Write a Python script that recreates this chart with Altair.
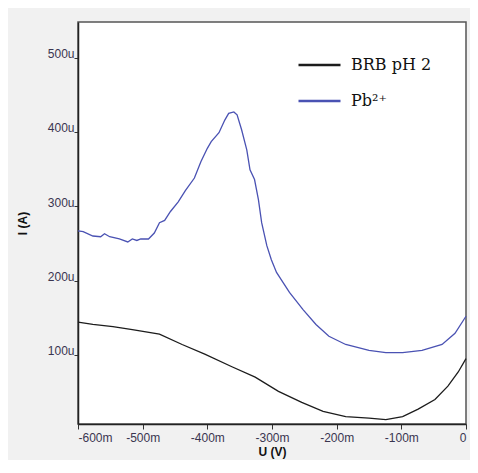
import altair as alt
import pandas as pd

# Potential (mV) and current (µA)
pb_u = [-600, -592, -577, -565, -559, -551, -536, -523, -516, -509, -503, -491, -482,
        -474, -466, -457, -445, -434, -420, -410, -400, -394, -382, -373, -367, -359,
        -354, -347, -339, -334, -327, -321, -316, -308, -301, -293, -273, -252, -232,
        -212, -186, -150, -124, -98, -68, -37, -17, 0]
pb_i = [267, 266, 260, 259, 263, 259, 256, 252, 256, 254, 256, 256, 264,
        278, 281, 293, 306, 321, 338, 360, 378, 387, 399, 416, 425, 427,
        423, 403, 376, 349, 336, 309, 278, 247, 228, 211, 184, 161, 141,
        125, 114, 106, 103, 103, 106, 114, 129, 152]

brb_u = [-600, -577, -546, -516, -474, -439, -404, -362, -326, -290, -254, -221,
         -186, -150, -124, -98, -74, -48, -28, -12, 0]
brb_i = [144, 141, 138, 134, 128, 114, 101, 84, 70, 51, 36, 24,
         17, 15, 13, 17, 27, 40, 58, 77, 95]

series_names = ["BRB pH 2", "Pb²⁺"]
series_colors = ["#1c1c1c", "#4a52b3"]

x_ticks = [-600, -500, -400, -300, -200, -100, 0]
y_ticks = [100, 200, 300, 400, 500]

df = pd.concat([
    pd.DataFrame({"U": brb_u, "I": brb_i, "series": series_names[0]}),
    pd.DataFrame({"U": pb_u, "I": pb_i, "series": series_names[1]}),
])

chart = alt.Chart(df).mark_line(strokeWidth=1.3).encode(
    x=alt.X("U:Q",
            scale=alt.Scale(domain=[-600, 0], nice=False, zero=False),
            axis=alt.Axis(title="U (V)", values=x_ticks,
                          labelExpr="datum.value == 0 ? '0' : datum.value + 'm'",
                          grid=False, tickSize=5, labelPadding=3, titlePadding=3)),
    y=alt.Y("I:Q",
            scale=alt.Scale(domain=[7, 548], nice=False, zero=False),
            axis=alt.Axis(title="I (A)", values=y_ticks,
                          labelExpr="datum.value + 'u'",
                          grid=False, tickSize=4, labelPadding=0,
                          labelBaseline="alphabetic", titlePadding=18)),
    color=alt.Color("series:N",
                    scale=alt.Scale(domain=series_names, range=series_colors),
                    legend=alt.Legend(title=None, orient="none", legendX=219, legendY=35,
                                      symbolType="stroke", symbolSize=1764,
                                      symbolStrokeWidth=2.5, clipHeight=16,
                                      rowPadding=20, labelFont="DejaVu Serif",
                                      labelFontSize=16, labelOffset=9,
                                      labelColor="#111")),
    order=alt.Order("U:Q"),
).properties(
    width=388, height=402,
    autosize=alt.AutoSizeParams(type="none"),
    padding={"left": 70, "top": 14, "right": 4, "bottom": 36},
    background="#f1f1f1",
).configure_view(
    fill="white", stroke="#555555", strokeWidth=1.5
).configure_axis(
    domainColor="#222222", domainWidth=1.5, tickColor="#333333",
    labelFont="Liberation Sans", labelFontSize=12, labelColor="#3a3550",
    titleFont="Liberation Sans", titleFontSize=12, titleFontWeight="bold",
    titleColor="#111111",
)

chart.save("out.html", embed_options={"renderer": "svg", "actions": False})
